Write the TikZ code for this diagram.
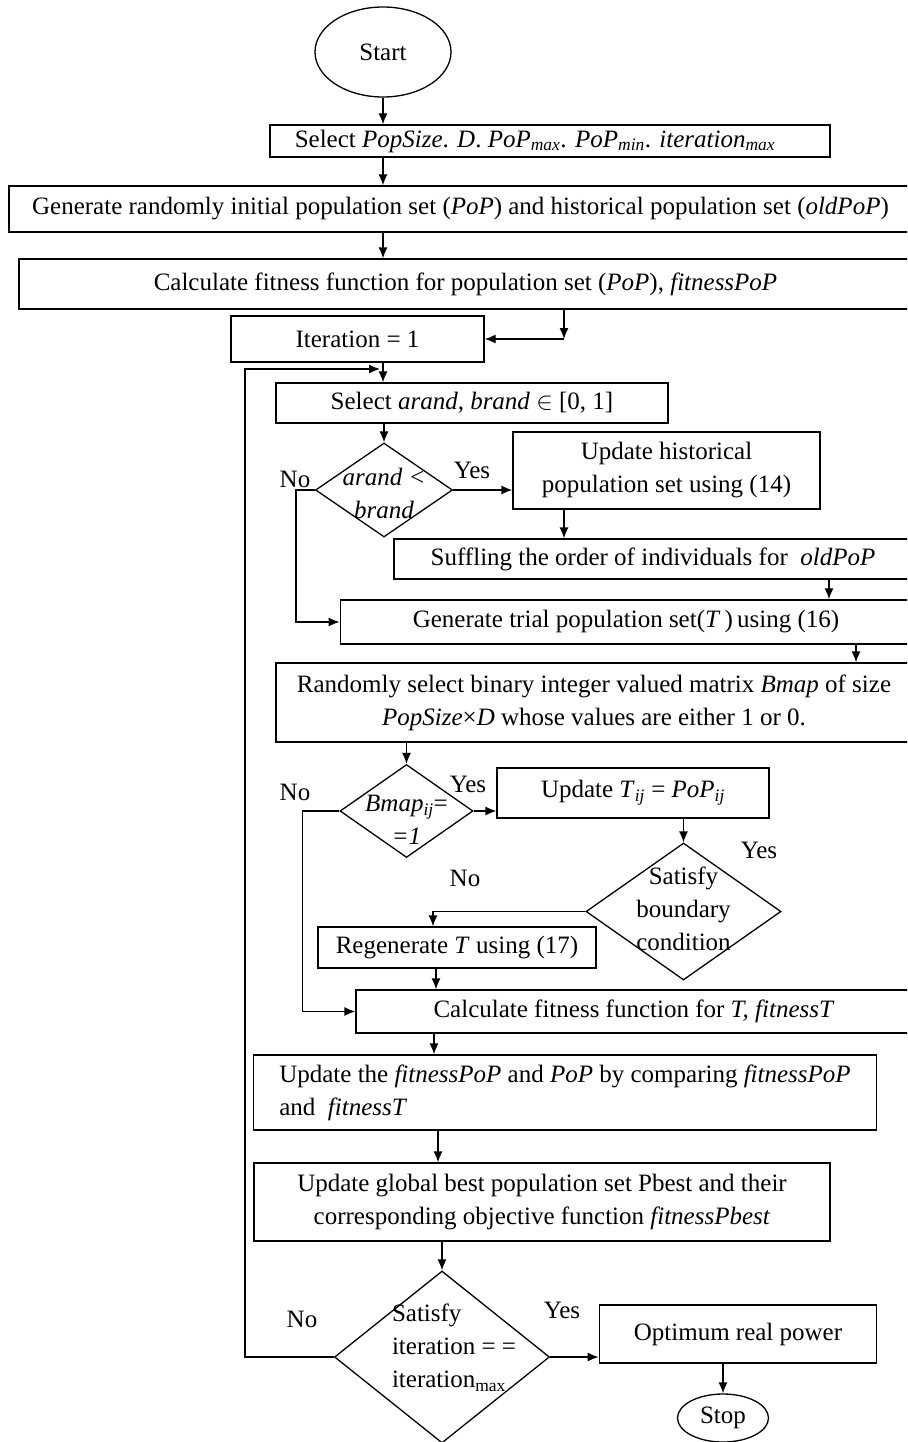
\documentclass[tikz,border=0pt]{standalone}
\usepackage{fontspec}
\setmainfont{Liberation Serif}
\usepackage{tikz}
\usetikzlibrary{shapes.geometric, arrows.meta, calc}

\begin{document}
\begin{tikzpicture}[x=1pt, y=-1pt, line width=1.3pt,
  font=\fontsize{25}{33}\selectfont,
  box/.style={draw, rectangle, inner sep=0pt, align=center},
  decision/.style={draw, diamond, inner sep=0pt},
  term/.style={draw, ellipse, inner sep=0pt},
  arr/.style={-{Latex[length=11pt,width=9pt]}}]
\useasboundingbox (0,0) rectangle (907,1442);
\clip (0,0) rectangle (907,1442);

\node[term, minimum width=136pt, minimum height=90pt] (start) at (383,52) {Start};
\node[box, minimum width=560pt, minimum height=32pt] (select) at (550,141) {Select \textit{PopSize}. \textit{D}. \textit{PoP}\textsubscript{\textit{max}}. \textit{PoP}\textsubscript{\textit{min}}. \textit{iteration}\textsubscript{\textit{max}}\hspace{30pt}};
\node[box, minimum width=903pt, minimum height=46pt] (genpop) at (460.5,209) {Generate randomly initial population set (\textit{PoP}) and historical population set (\textit{oldPoP})};
\node[box, minimum width=893pt, minimum height=50pt] (calcpop) at (465.5,284) {Calculate fitness function for population set (\textit{PoP}), \textit{fitnessPoP}};
\node[box, minimum width=253pt, minimum height=46pt] (iter) at (357.5,339) {Iteration = 1};
\node[box, minimum width=392pt, minimum height=40pt] (selab) at (472,403) {Select \textit{arand}, \textit{brand} $\in$ [0, 1]};
\node[decision, minimum width=137pt, minimum height=94pt,
  label={[align=center, yshift=-3pt]center:{\textit{arand <}\\\textit{brand}}}] (dab) at (384,490) {};
\node[box, minimum width=307pt, minimum height=77pt] (hist) at (666.5,470.5) {Update historical\\population set using (14)};
\node[box, minimum width=518pt, minimum height=40pt] (shuf) at (653,559) {Suffling the order of individuals for \ \textit{oldPoP}};
\node[box, minimum width=571.5pt, minimum height=44pt] (trial) at (626,622) {Generate trial population set(\textit{T}\,)\,using (16)};
\node[box, minimum width=636pt, minimum height=79pt] (bmapsel) at (594,702.5) {Randomly select binary integer valued matrix \textit{Bmap} of size\\\textit{PopSize}×\textit{D} whose values are either 1 or 0.};
\node[decision, minimum width=133pt, minimum height=93pt,
  label={[align=center, yshift=-9pt]center:{\textit{Bmap}\textsubscript{\textit{ij}}=\\\textit{=1}}}] (dbmap) at (406.5,811) {};
\node[box, minimum width=272pt, minimum height=50pt] (updT) at (633,793) {Update \textit{T}\textsubscript{\textit{ij}} = \textit{PoP}\textsubscript{\textit{ij}}};
\node[decision, minimum width=195pt, minimum height=137pt,
  label={[align=center, yshift=3pt]center:{Satisfy\\boundary\\condition}}] (dbound) at (683.5,911.5) {};
\node[box, minimum width=278pt, minimum height=41pt] (regen) at (457,947.5) {Regenerate \textit{T} using (17)};
\node[box, minimum width=556pt, minimum height=43pt] (calcT) at (634,1011.5) {Calculate fitness function for \textit{T, fitnessT}};
\node[box, align=left, minimum width=622.5pt, minimum height=75pt] (updfit) at (565,1092.5) {Update the \textit{fitnessPoP} and \textit{PoP} by comparing \textit{fitnessPoP}\\and \ \textit{fitnessT}};
\node[box, minimum width=576pt, minimum height=78pt] (global) at (542,1202) {Update global best population set Pbest and their\\corresponding objective function \textit{fitnessPbest}};
\node[decision, minimum width=215pt, minimum height=172pt,
  label={[align=left, xshift=12pt, yshift=9pt]center:{Satisfy\\iteration = =\\iteration\textsubscript{max}}}] (diter) at (442,1357) {};
\node[box, minimum width=277.5pt, minimum height=58pt] (opt) at (738,1334) {Optimum real power};
\node[term, minimum width=91pt, minimum height=48pt] (stop) at (723,1418) {Stop};

\foreach \x/\y/\ans [count=\i] in {295/479/No, 472/470/Yes, 295/792/No, 468/784/Yes, 759/850/Yes, 465/878/No, 302/1319/No, 562/1310/Yes}{
\node (ans\i) at (\x,\y) {\ans};
}

\coordinate (ret) at (564,339);
\coordinate (loop) at (245,369);
\coordinate (loopend) at (380,369);

\draw[arr] (start.south) -- (start.south |- select.north);
\draw[arr] (start.south |- select.south) -- (start.south |- genpop.north);
\draw[arr] (start.south |- genpop.south) -- (start.south |- calcpop.north);
\draw[arr] (calcpop.south -| ret) -- (ret);
\draw[arr] (ret) -- (iter.east);
\draw[arr] (iter.south -| start.south) -- (selab.north -| start.south);
\draw[arr] (selab.south -| dab.north) -- (dab.north);
\draw[arr] (dab.east) -- (dab.east -| hist.west);
\draw[arr] (hist.south -| ret) -- (shuf.north -| ret);
\draw[arr] ([xshift=176pt]shuf.south) -- ([xshift=176pt]shuf.south |- trial.north);
\draw[arr] (dab.west) -- ++(-19,0) |- (trial.west);
\draw[arr] ([xshift=230pt]trial.south) -- ([xshift=230pt]trial.south |- bmapsel.north);
\draw[arr] (bmapsel.south -| dbmap.north) -- (dbmap.north);
\draw[arr] (dbmap.east) -- (dbmap.east -| updT.west);
\draw[arr] (updT.south -| dbound.north) -- (dbound.north);
\draw[arr] (dbound.west) -| ([xshift=-24pt]regen.north);
\draw[arr] ([xshift=-21pt]regen.south) -- ([xshift=-21pt]regen.south |- calcT.north);
\draw[arr] (dbmap.west) -- ++(-37,0) |- (calcT.west);
\draw[arr] ([xshift=-200pt]calcT.south) -- ([xshift=-200pt]calcT.south |- updfit.north);
\draw[arr] ([xshift=-127pt]updfit.south) -- ([xshift=-127pt]updfit.south |- global.north);
\draw[arr] (global.south -| diter.north) -- (diter.north);
\draw[arr] (diter.east) -- (diter.east -| opt.west);
\draw[arr] (opt.south -| stop.north) -- (stop.north);
\draw[arr] (diter.west) -| (loop) -- (loopend);
\end{tikzpicture}
\end{document}
